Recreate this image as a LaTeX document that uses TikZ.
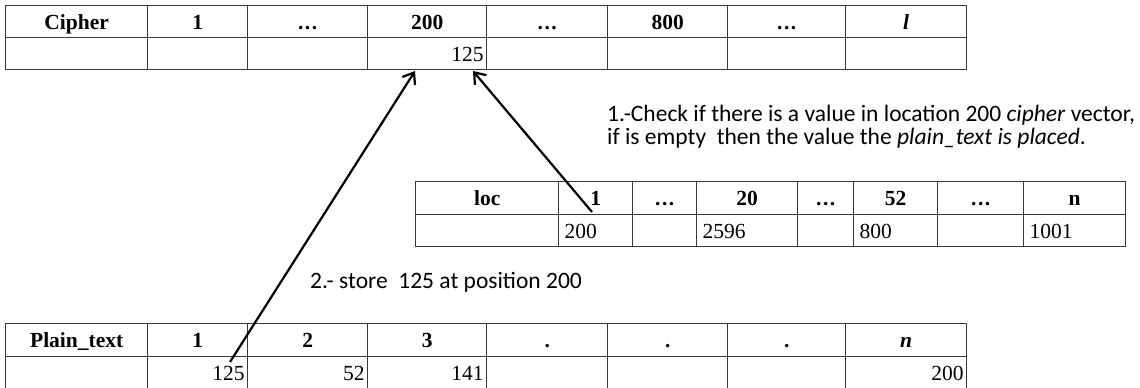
\documentclass[tikz,border=0pt]{standalone}
\usepackage{fontspec}
\setmainfont{Liberation Serif}
\newfontfamily\notefont{Carlito}
\usetikzlibrary{arrows.meta}

% one table cell: name, left x, top y, width, height, alignment, content
\newcommand\tcell[7]{%
  \pgfmathsetmacro\tcw{#4-6}%
  \node[cellbox, anchor=north west, text width=\tcw pt, minimum height=#5pt, align=#6] (#1) at (#2,#3) {#7};%
}
\newcommand\hdots{{\bfseries .\kern1.5pt.\kern1.5pt.}}

\begin{document}
\begin{tikzpicture}[x=1pt, y=-1pt,
  cellbox/.style={draw=black!78, line width=1.4pt, inner xsep=3pt, inner ysep=0pt,
                  text height=17pt, text depth=2pt,
                  font=\fontsize{21.5}{23}\selectfont},
  pointer/.style={line width=2.2pt, -{Straight Barb[length=10pt, width=15pt, line width=2.2pt]}},
  note/.style={font=\notefont\fontsize{23.5}{26}\selectfont, inner sep=0pt, anchor=base west}]
\useasboundingbox (0,0) rectangle (1140,388);

% ---- cipher vector ----
\tcell{c0h}{5}{5}{142}{32}{center}{\bfseries Cipher}
\tcell{c1h}{147}{5}{100}{32}{center}{\bfseries 1}
\tcell{c2h}{247}{5}{120}{32}{center}{\hdots}
\tcell{c3h}{367}{5}{119}{32}{center}{\bfseries 200}
\tcell{c4h}{486}{5}{121}{32}{center}{\hdots}
\tcell{c5h}{607}{5}{120}{32}{center}{\bfseries 800}
\tcell{c6h}{727}{5}{118}{32}{center}{\hdots}
\tcell{c7h}{845}{5}{121}{32}{center}{\bfseries\itshape l}
\tcell{c0v}{5}{37}{142}{32}{right}{}
\tcell{c1v}{147}{37}{100}{32}{right}{}
\tcell{c2v}{247}{37}{120}{32}{right}{}
\tcell{c3v}{367}{37}{119}{32}{right}{125}
\tcell{c4v}{486}{37}{121}{32}{right}{}
\tcell{c5v}{607}{37}{120}{32}{right}{}
\tcell{c6v}{727}{37}{118}{32}{right}{}
\tcell{c7v}{845}{37}{121}{32}{right}{}

% ---- loc vector ----
\tcell{l0h}{415}{181}{143}{33}{center}{\bfseries loc}
\tcell{l1h}{558}{181}{74}{33}{center}{\bfseries 1}
\tcell{l2h}{632}{181}{64}{33}{center}{\hdots}
\tcell{l3h}{696}{181}{101}{33}{center}{\bfseries 20}
\tcell{l4h}{797}{181}{56}{33}{center}{\hdots}
\tcell{l5h}{853}{181}{84}{33}{center}{\bfseries 52}
\tcell{l6h}{937}{181}{86}{33}{center}{\hdots}
\tcell{l7h}{1023}{181}{102}{33}{center}{\bfseries n}
\tcell{l0v}{415}{214}{143}{32}{left}{}
\tcell{l1v}{558}{214}{74}{32}{left}{\hspace{3pt}200}
\tcell{l2v}{632}{214}{64}{32}{left}{}
\tcell{l3v}{696}{214}{101}{32}{left}{\hspace{3pt}2596}
\tcell{l4v}{797}{214}{56}{32}{left}{}
\tcell{l5v}{853}{214}{84}{32}{left}{\hspace{3pt}800}
\tcell{l6v}{937}{214}{86}{32}{left}{}
\tcell{l7v}{1023}{214}{102}{32}{left}{\hspace{3pt}1001}

% ---- plain text vector ----
\tcell{p0h}{5}{323}{142}{33}{center}{\bfseries Plain\_text}
\tcell{p1h}{147}{323}{100}{33}{center}{\bfseries 1}
\tcell{p2h}{247}{323}{120}{33}{center}{\bfseries 2}
\tcell{p3h}{367}{323}{119}{33}{center}{\bfseries 3}
\tcell{p4h}{486}{323}{121}{33}{center}{\bfseries .}
\tcell{p5h}{607}{323}{120}{33}{center}{\bfseries .}
\tcell{p6h}{727}{323}{118}{33}{center}{\bfseries .}
\tcell{p7h}{845}{323}{121}{33}{center}{\bfseries\itshape n}
\tcell{p0v}{5}{356}{142}{32}{right}{}
\tcell{p1v}{147}{356}{100}{32}{right}{125}
\tcell{p2v}{247}{356}{120}{32}{right}{52}
\tcell{p3v}{367}{356}{119}{32}{right}{141}
\tcell{p4v}{486}{356}{121}{32}{right}{}
\tcell{p5v}{607}{356}{120}{32}{right}{}
\tcell{p6v}{727}{356}{118}{32}{right}{}
\tcell{p7v}{845}{356}{121}{32}{right}{200}

% ---- notes ----
\node[note] (n1a) at (607,121) {1.-Check if there is a value in location 200 \textit{cipher} vector,};
\node[note] (n1b) at (607,144) {if is empty\ \ then the\ value the \textit{plain\_text is placed}.};
\node[note] (n2) at (310,288) {2.- store\ \ 125 at position 200};

% ---- pointers ----
\coordinate (from125) at (230,362);
\coordinate (from200) at (592,212);
\coordinate (toL) at (415,71);
\coordinate (toR) at (473,71);
\draw[pointer] (from125) -- (toL);
\draw[pointer] (from200) -- (toR);
\end{tikzpicture}
\end{document}
